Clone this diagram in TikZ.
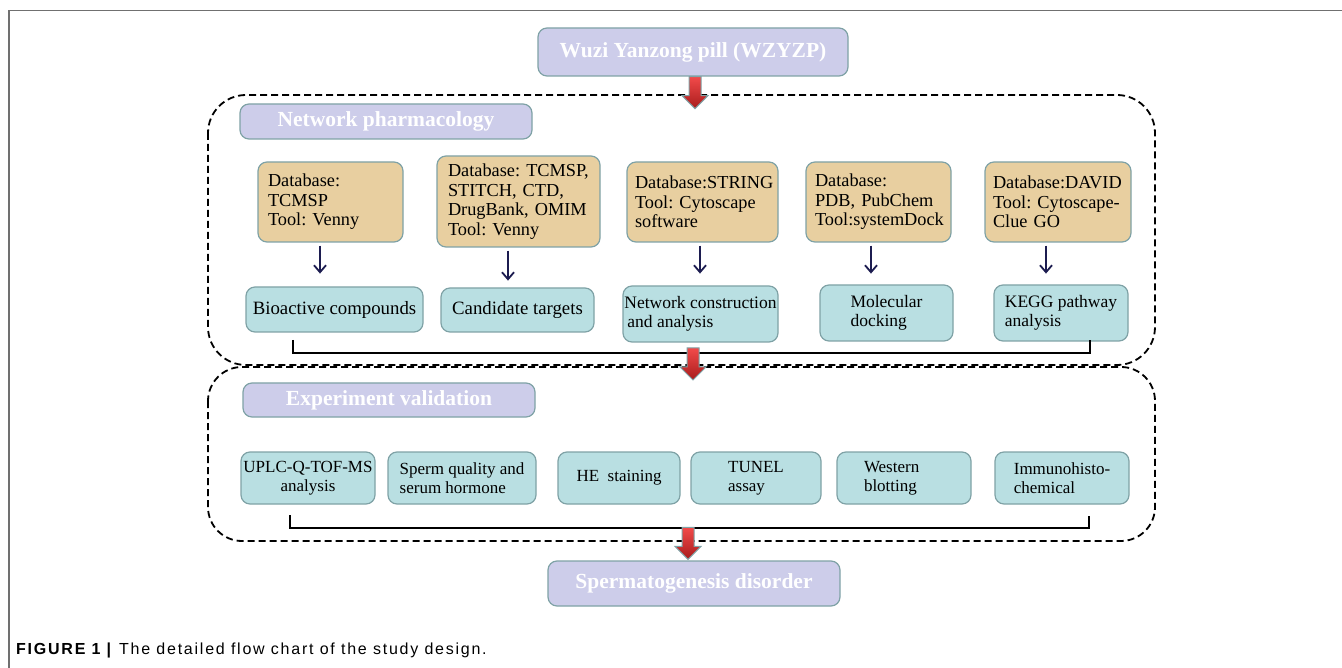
\documentclass[tikz,border=0pt]{standalone}
\usepackage{fontspec}
\setmainfont{Liberation Serif}
\newfontfamily\capfont[LetterSpace=11]{Liberation Sans}
\usetikzlibrary{arrows.meta,calc}
\definecolor{lav}{HTML}{CDCDEA}
\definecolor{orng}{HTML}{E8CFA0}
\definecolor{tealc}{HTML}{B9DFE2}
\definecolor{bordc}{HTML}{7FA2A6}
\definecolor{navy}{HTML}{1C1C50}
\definecolor{redtop}{HTML}{F24A4A}
\definecolor{redbot}{HTML}{A81C1C}
\definecolor{framec}{HTML}{707070}
\frenchspacing
\tikzset{
  redarr/.pic={\path[top color=redtop, bottom color=redbot, draw=bordc, line width=1pt]
    (-6,0) -- (6,0) -- (6,19) -- (13,19) -- (0,32) -- (-13,19) -- (-6,19) -- cycle;}
}
\begin{document}
\frenchspacing
\begin{tikzpicture}[x=1pt,y=-1pt,
  box/.style={draw=bordc, line width=1.2pt, rounded corners=9pt, inner sep=0pt},
  headbox/.style={box, fill=lav, font=\fontsize{21.5}{23}\selectfont\bfseries, text=white},
  orangebox/.style={box, fill=orng, font=\fontsize{18.3}{19.5}\selectfont, align=left, inner xsep=10pt},
  tealbox/.style={box, fill=tealc, font=\fontsize{18.8}{20}\selectfont, align=left},
  tealboxs/.style={box, fill=tealc, font=\fontsize{17.5}{19.5}\selectfont, align=left},
  ebox/.style={box, fill=tealc, font=\fontsize{17}{19}\selectfont, align=left},
  barrow/.style={draw=navy, line width=1.8pt, -{Straight Barb[length=7pt,width=12pt]}},
  bracket/.style={draw=black, line width=1.8pt},
  dashbox/.style={draw=black, line width=1.8pt, dash pattern=on 7pt off 4pt, rounded corners=38pt}
]
\useasboundingbox (0,0) rectangle (1342,668);
% frame
\draw[framec, line width=1.5pt] (9,668) -- (9,10.5) -- (1342,10.5);

% dashed containers
\draw[dashbox] (208,95) rectangle (1155,365);
\draw[dashbox, rounded corners=34pt] (208,367) rectangle (1155,541);

% top node
\node[headbox, minimum width=310pt, minimum height=48pt] (wuzi) at (693,52) {Wuzi Yanzong pill (WZYZP)};

% network pharmacology
\node[headbox, minimum width=292pt, minimum height=35pt] (np) at (386,121.5) {Network pharmacology};

\node[orangebox, text width=125pt, minimum height=80pt] (o1) at (330.5,202) {Database:\\TCMSP\\Tool: Venny};
\node[orangebox, text width=141pt, inner xsep=11pt, minimum height=91pt] (o2) at (518.5,201.5) {Database: TCMSP,\\STITCH, CTD,\\DrugBank, OMIM\\Tool: Venny};
\node[orangebox, text width=135pt, inner xsep=8pt, minimum height=80pt] (o3) at (702.5,202) {Database:STRING\\Tool: Cytoscape\\software};
\node[orangebox, text width=127pt, inner xsep=9pt, minimum height=80pt] (o4) at (878.5,202) {Database:\\PDB, PubChem\\Tool:systemDock};
\node[orangebox, text width=130pt, inner xsep=8pt, minimum height=80pt] (o5) at (1058,202) {Database:DAVID\\Tool: Cytoscape-\\Clue GO};

\node[tealbox, minimum width=177pt, minimum height=45pt] (t1) at (334.5,309.5) {Bioactive compounds};
\node[tealbox, minimum width=153pt, minimum height=44pt] (t2) at (517.5,310) {Candidate targets};
\node[tealboxs, minimum width=155pt, minimum height=56pt] (t3) at (700.5,314) {Network construction\\\hspace*{3pt}and analysis};
\node[tealboxs, minimum width=133pt, minimum height=56pt] (t4) at (886.5,313) {Molecular\\docking};
\node[tealboxs, minimum width=134pt, minimum height=56pt] (t5) at (1061,313) {KEGG pathway\\analysis};

\draw[barrow] (o1.south) ++(-10.5,3) -- ++(0,28);
\draw[barrow] (o2.south) ++(-10.5,3) -- ++(0,30);
\draw[barrow] (o3.south) ++(-2.5,3) -- ++(0,28);
\draw[barrow] (o4.south) ++(-7.5,3) -- ++(0,28);
\draw[barrow] (o5.south) ++(-12,3) -- ++(0,28);

\coordinate (bl1) at (293,340);
\coordinate (br1) at (1090,340);
\draw[bracket] (bl1) -- ++(0,13) -| (br1);

% experiment validation
\node[headbox, minimum width=292pt, minimum height=34pt] (ev) at (389,400) {Experiment validation};

\node[ebox, align=center, minimum width=134pt, minimum height=52pt] (e1) at (308,478) {UPLC-Q-TOF-MS\\analysis};
\node[ebox, minimum width=148pt, minimum height=52pt] (e2) at (462,478) {Sperm quality and\\serum hormone};
\node[ebox, minimum width=122pt, minimum height=52pt] (e3) at (619,478) {HE\ \ staining};
\node[ebox, minimum width=130pt, minimum height=52pt] (e4) at (756,478) {TUNEL\\assay};
\node[ebox, text width=80pt, inner xsep=27pt, minimum height=52pt] (e5) at (904,478) {Western\\blotting};
\node[ebox, minimum width=134pt, minimum height=52pt] (e6) at (1062,478) {Immunohisto-\\chemical};

\coordinate (bl2) at (290,515);
\coordinate (br2) at (1089,516);
\draw[bracket] (bl2) -- ++(0,13) -| (br2);

% final
\node[headbox, minimum width=292pt, minimum height=45pt] (sperm) at (694,583.5) {Spermatogenesis disorder};

% red arrows
\pic at ([xshift=2pt]wuzi.south) {redarr};
\pic at (693,348) {redarr};
\pic at ($(sperm.north)+(-6,-33)$) {redarr};

% caption
\node[anchor=base west, inner sep=0pt, font=\capfont\fontsize{16}{18}\selectfont] (cap) at (16,654) {\textbf{FIGURE 1 |} The detailed flow chart of the study design.};
\end{tikzpicture}
\end{document}
